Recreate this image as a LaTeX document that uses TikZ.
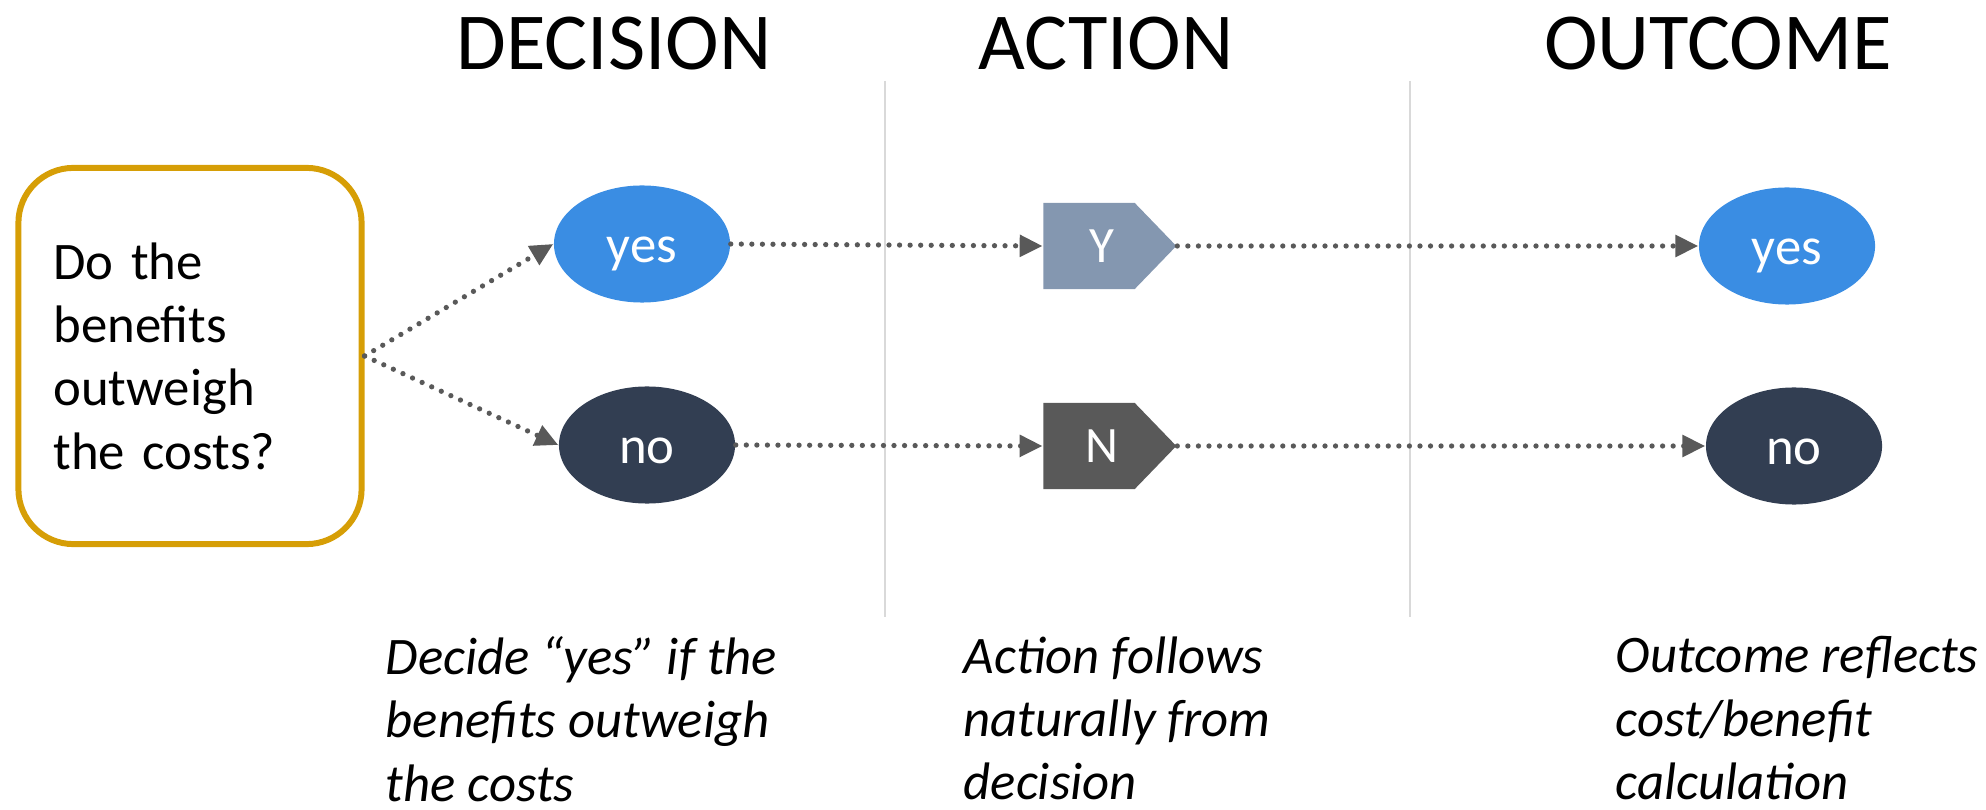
\documentclass[tikz,border=0pt]{standalone}
\usepackage{fontspec}
\setmainfont{Carlito}
\usepackage{tikz}
\usetikzlibrary{shapes.geometric,shapes.symbols,arrows.meta,positioning}
\definecolor{boxgold}{RGB}{214,158,6}
\definecolor{yesblue}{RGB}{58,141,227}
\definecolor{noslate}{RGB}{50,62,82}
\definecolor{ygray}{RGB}{132,151,176}
\definecolor{ngray}{RGB}{89,89,89}
\definecolor{rulegray}{RGB}{217,217,217}

\begin{document}
\begin{tikzpicture}[x=0.01cm,y=-0.01cm,line join=round,
    choice/.style={ellipse,minimum width=1.76cm,minimum height=1.17cm,inner sep=0pt,text=white,
                   text height=10.5pt,text depth=0pt,font=\fontsize{15}{18}\selectfont},
    act/.style={signal,signal to=east,signal pointer angle=92,minimum width=1.33cm,minimum height=0.86cm,inner sep=0pt,text=white,font=\fontsize{14.5}{17}\selectfont},
    flow/.style={ngray,line width=1.5pt,line cap=round,dash pattern=on 0pt off 3pt,-{Triangle[length=6.5pt,width=6pt]}},
    heading/.style={anchor=base,font=\fontsize{23}{28}\selectfont},
    note/.style={anchor=north west,inner sep=0pt,align=left,font=\fontsize{15}{18}\selectfont\itshape}]
      \useasboundingbox (0,0) rectangle (1986,810);
      \draw[rulegray,line width=0.8pt] (885,81)--(885,617);
      \draw[rulegray,line width=0.8pt] (1410,81)--(1410,617);
      \node[heading] (hdec) at (614,70) {DECISION};
      \node[heading] (hact) at (1106,70) {ACTION};
      \node[heading] (hout) at (1718,70) {OUTCOME};
      \node[draw=boxgold,line width=1.7pt,rounded corners=0.55cm,minimum width=3.43cm,minimum height=3.76cm,
            text width=2.73cm,align=left,font=\fontsize{15}{18}\selectfont] (q) at (190,356)
            {Do the\\benefits\\outweigh\\the costs?};
      \node[choice,fill=yesblue] (dyes) at (642,244) {yes};
      \node[choice,fill=noslate] (dno) at (647,445) {no};
      \node[act,fill=ygray] (ay) at (1089,246) {\hspace*{0.26cm}Y};
      \node[act,fill=ngray] (an) at (1089,446) {\hspace*{0.26cm}N};
      \node[choice,fill=yesblue] (oyes) at (1787,246) {yes};
      \node[choice,fill=noslate] (ono) at (1794,446) {no};
      \draw[flow] (q.east)--(dyes.west);
      \draw[flow] (q.east)--(dno.west);
      \draw[flow] (dyes.east)--(ay.west);
      \draw[flow] (dno.east)--(an.west);
      \draw[flow] (ay.east)--(oyes.west);
      \draw[flow] (an.east)--(ono.west);
      \node[note] (ndec) at (385,636) {Decide “yes” if the\\benefits outweigh\\the costs};
      \node[note] (nact) at (963,636) {Action follows\\naturally from\\decision};
      \node[note] (nout) at (1615,636) {Outcome reflects\\cost/benefit\\calculation};
\end{tikzpicture}
\end{document}
